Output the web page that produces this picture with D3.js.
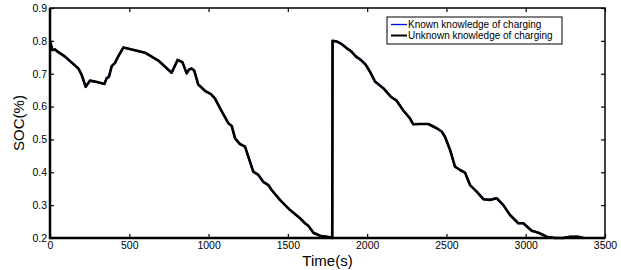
<!DOCTYPE html>
<html>
<head>
<meta charset="utf-8">
<script src="https://d3js.org/d3.v7.min.js"></script>
<style>
  body { margin: 0; background: #fff; }
  text { font-family: "Liberation Sans", Arial, sans-serif; }
</style>
</head>
<body>
<div id="chart"></div>
<script>
// time (s) and state of charge
const timeS = [0, 15, 32, 48, 95, 179, 200, 225, 252, 284, 343, 357, 372, 389, 410, 427, 463, 515, 599, 683, 767,
  805, 835, 862, 877, 893, 910, 935, 977, 1015, 1040, 1072, 1125, 1146, 1167, 1198, 1230, 1251, 1282, 1314,
  1345, 1377, 1398, 1450, 1514, 1577, 1608, 1629, 1661, 1703, 1766, 1780,
  1782, 1810, 1840, 1870, 1900, 1930, 1960, 1990, 2018, 2050, 2102, 2149, 2186, 2228, 2270, 2291, 2333, 2386,
  2439, 2470, 2491, 2523, 2554, 2586, 2617, 2649, 2691, 2733, 2775, 2817, 2859, 2901, 2953, 2985, 3038, 3080,
  3133, 3185, 3237, 3280, 3331, 3364];
const soc = [0.800, 0.772, 0.774, 0.767, 0.752, 0.716, 0.696, 0.660, 0.679, 0.676, 0.669, 0.686, 0.691, 0.723, 0.733, 0.750, 0.780, 0.774, 0.764, 0.740, 0.703,
  0.742, 0.735, 0.701, 0.713, 0.716, 0.709, 0.667, 0.648, 0.638, 0.625, 0.595, 0.549, 0.541, 0.503, 0.486, 0.478, 0.447, 0.402, 0.392,
  0.371, 0.361, 0.346, 0.316, 0.285, 0.260, 0.245, 0.237, 0.216, 0.207, 0.202, 0.200,
  0.800, 0.798, 0.790, 0.778, 0.768, 0.752, 0.742, 0.728, 0.706, 0.676, 0.656, 0.630, 0.618, 0.588, 0.564, 0.546, 0.547, 0.547,
  0.534, 0.524, 0.508, 0.468, 0.417, 0.407, 0.399, 0.361, 0.341, 0.318, 0.316, 0.321, 0.300, 0.270, 0.245, 0.245, 0.222, 0.216,
  0.204, 0.200, 0.200, 0.204, 0.204, 0.200];
const seriesNames = ["Known knowledge of charging", "Unknown knowledge of charging"];
const seriesColors = ["#0000ff", "#000000"];
const xTicks = [0, 500, 1000, 1500, 2000, 2500, 3000, 3500];
const yTicks = [0.2, 0.3, 0.4, 0.5, 0.6, 0.7, 0.8, 0.9];

const W = 621, H = 270;
const m = {left: 50, right: 16, top: 8, bottom: 32};

const svg = d3.select('#chart').append('svg')
  .attr('width', W).attr('height', H);

const x = d3.scaleLinear().domain([0, 3500]).range([m.left, W - m.right]);
const y = d3.scaleLinear().domain([0.2, 0.9]).range([H - m.bottom, m.top]);

const pts = timeS.map((t, i) => [t, soc[i]]);
const line = d3.line().x(d => x(d[0])).y(d => y(d[1]));

// both estimates coincide, the black one sits on top
seriesColors.forEach((c, i) => {
  svg.append('path').datum(pts)
    .attr('d', line)
    .attr('fill', 'none')
    .attr('stroke', c)
    .attr('stroke-width', i ? 2.6 : 2)
    .attr('stroke-linejoin', 'round');
});

// axes box, ticks inward like matlab
const fmt = d3.format('.1f');
const ax = (g) => g.selectAll('.domain').remove();

svg.append('g').attr('transform', `translate(0,${y(0.2)})`)
  .call(d3.axisTop(x).tickValues(xTicks).tickSize(4).tickFormat(''))
  .call(ax);
svg.append('g').attr('transform', `translate(0,${y(0.2)})`)
  .call(d3.axisBottom(x).tickValues(xTicks).tickSize(0).tickPadding(4).tickFormat(d3.format('d')))
  .call(ax)
  .selectAll('text').attr('font-size', 10.5).attr('fill', '#000');

svg.append('g').attr('transform', `translate(0,${y(0.9)})`)
  .call(d3.axisBottom(x).tickValues(xTicks).tickSize(4).tickFormat(''))
  .call(ax);

svg.append('g').attr('transform', `translate(${x(0)},0)`)
  .call(d3.axisRight(y).tickValues(yTicks).tickSize(4).tickFormat(''))
  .call(ax);
svg.append('g').attr('transform', `translate(${x(0)},0)`)
  .call(d3.axisLeft(y).tickValues(yTicks).tickSize(0).tickPadding(3).tickFormat(fmt))
  .call(ax)
  .selectAll('text').attr('font-size', 10.5).attr('fill', '#000');

svg.append('g').attr('transform', `translate(${x(3500)},0)`)
  .call(d3.axisLeft(y).tickValues(yTicks).tickSize(4).tickFormat(''))
  .call(ax);

svg.selectAll('.tick line').attr('stroke', '#000').attr('stroke-width', 1.2);

svg.append('rect')
  .attr('x', x(0)).attr('y', y(0.9))
  .attr('width', x(3500) - x(0)).attr('height', y(0.2) - y(0.9))
  .attr('fill', 'none').attr('stroke', '#000').attr('stroke-width', 1.5);
svg.append('path')
  .attr('d', `M${x(0)},${y(0.9)}V${y(0.2)}H${x(3500)}`)
  .attr('fill', 'none').attr('stroke', '#000').attr('stroke-width', 2.5);

// labels
svg.append('text')
  .attr('x', x(1750)).attr('y', 266)
  .attr('text-anchor', 'middle').attr('font-size', 15)
  .text('Time(s)');
svg.append('text')
  .attr('transform', `translate(24,${y(0.55)}) rotate(-90)`)
  .attr('text-anchor', 'middle').attr('font-size', 15)
  .text('SOC(%)');

// legend
const lg = svg.append('g').attr('transform', 'translate(387,17)');
lg.append('rect').attr('width', 175).attr('height', 27)
  .attr('fill', '#fff').attr('stroke', '#000').attr('stroke-width', 1);
seriesNames.forEach((n, i) => {
  const yy = 7.5 + i * 11;
  lg.append('line').attr('x1', 4).attr('x2', 20).attr('y1', yy).attr('y2', yy)
    .attr('stroke', seriesColors[i]).attr('stroke-width', i ? 2 : 1.3);
  lg.append('text').attr('x', 21).attr('y', yy + 3.5)
    .attr('font-size', 10).text(n);
});
</script>
</body>
</html>
